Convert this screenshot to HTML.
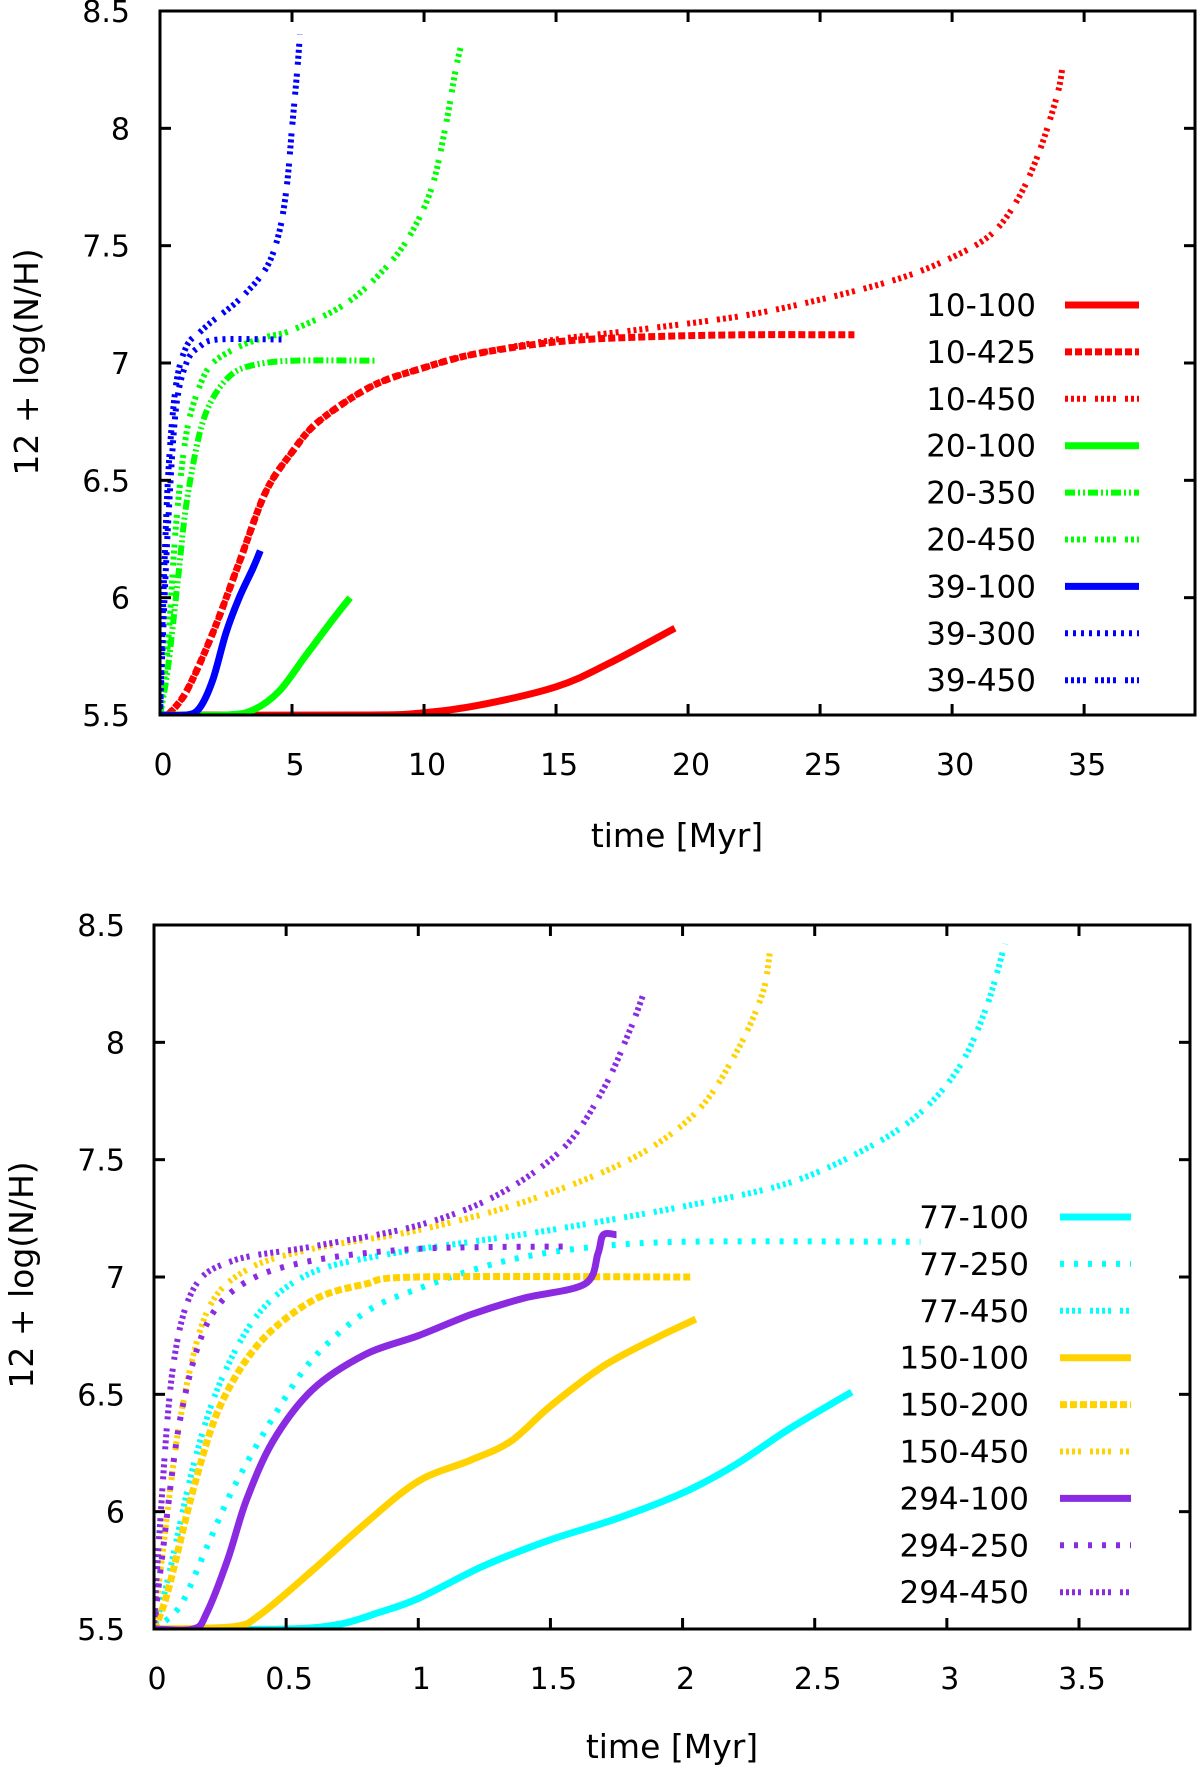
<!DOCTYPE html>
<html><head><meta charset="utf-8"><style>
html,body{margin:0;padding:0;background:#fff;}
svg{display:block;font-family:"DejaVu Sans","Liberation Sans",sans-serif;}
</style></head><body>
<svg id="fig" width="1200" height="1769" viewBox="0 0 1200 1769" xmlns="http://www.w3.org/2000/svg"></svg>
<script>
// ---- Top panel data ----
const topNames = ["10-100","10-425","10-450","20-100","20-350","20-450","39-100","39-300","39-450"];
const top_10_100 = [[0,5.5],[8,5.5],[10,5.51],[12,5.54],[15,5.62],[17,5.72],[19.5,5.87]];
const top_10_425 = [[0.3,5.5],[1,5.6],[2,5.85],[3,6.15],[4,6.45],[5,6.62],[6,6.75],[8,6.9],[10,6.98],[12,7.04],[15,7.09],[18,7.11],[22,7.12],[26.3,7.12]];
const top_10_450 = [[0.3,5.5],[1,5.6],[2,5.85],[3,6.15],[4,6.45],[5,6.62],[6,6.75],[8,6.9],[10,6.98],[12,7.04],[15,7.1],[18,7.14],[22,7.2],[25,7.27],[28,7.36],[30,7.45],[31.5,7.55],[32.5,7.7],[33.3,7.9],[34,8.15],[34.2,8.28]];
const top_20_100 = [[0,5.5],[2.5,5.5],[3.5,5.52],[4.5,5.6],[5.5,5.75],[6.5,5.9],[7.2,6.0]];
const top_20_350 = [[0,5.5],[0.3,5.7],[0.7,6.1],[1,6.4],[1.5,6.7],[2,6.85],[2.7,6.95],[3.5,6.99],[5,7.01],[8.2,7.01]];
const top_20_450 = [[0,5.5],[0.3,5.8],[0.6,6.3],[1,6.7],[1.5,6.9],[2,7.0],[3,7.07],[4,7.11],[5,7.14],[7,7.25],[8.5,7.4],[9.5,7.55],[10.3,7.75],[10.8,8.0],[11.2,8.25],[11.4,8.35]];
const top_39_100 = [[0,5.5],[1,5.5],[1.5,5.53],[2,5.65],[2.5,5.85],[3,6.0],[3.5,6.12],[3.8,6.2]];
const top_39_300 = [[0,5.5],[0.1,5.8],[0.3,6.3],[0.6,6.8],[1,7.0],[1.5,7.07],[2.2,7.1],[4.6,7.1]];
const top_39_450 = [[0,5.5],[0.1,5.9],[0.3,6.5],[0.6,6.9],[1,7.07],[1.5,7.13],[2,7.18],[3,7.27],[4,7.4],[4.5,7.55],[4.8,7.75],[5,8.0],[5.2,8.25],[5.3,8.4]];
const topXTicks = [0,5,10,15,20,25,30,35];
const yTicks = [5.5,6,6.5,7,7.5,8,8.5];

// ---- Bottom panel data ----
const botNames = ["77-100","77-250","77-450","150-100","150-200","150-450","294-100","294-250","294-450"];
const bot_77_100 = [[0,5.5],[0.5,5.5],[0.7,5.52],[0.85,5.57],[1,5.63],[1.25,5.77],[1.5,5.88],[1.75,5.97],[2,6.08],[2.2,6.2],[2.4,6.35],[2.64,6.51]];
const bot_77_250 = [[0,5.5],[0.1,5.6],[0.2,5.85],[0.3,6.1],[0.45,6.4],[0.6,6.65],[0.8,6.85],[1,6.95],[1.3,7.06],[1.6,7.12],[2,7.15],[2.9,7.15]];
const bot_77_450 = [[0,5.5],[0.05,5.7],[0.15,6.2],[0.25,6.55],[0.4,6.85],[0.6,7.02],[0.9,7.1],[1.2,7.15],[1.5,7.2],[2,7.3],[2.4,7.4],[2.7,7.55],[2.9,7.7],[3.05,7.9],[3.15,8.15],[3.22,8.42]];
const bot_150_100 = [[0,5.5],[0.3,5.51],[0.4,5.56],[0.6,5.75],[0.8,5.95],[1,6.13],[1.2,6.22],[1.35,6.3],[1.5,6.45],[1.7,6.62],[1.9,6.74],[2.05,6.82]];
const bot_150_200 = [[0,5.5],[0.05,5.65],[0.15,6.1],[0.25,6.45],[0.4,6.72],[0.6,6.9],[0.8,6.97],[1,7.0],[2.03,7.0]];
const bot_150_450 = [[0,5.5],[0.03,5.8],[0.1,6.4],[0.2,6.85],[0.35,7.03],[0.6,7.12],[1,7.2],[1.4,7.32],[1.8,7.5],[2.05,7.7],[2.2,7.95],[2.3,8.2],[2.33,8.38]];
const bot_294_100 = [[0,5.5],[0.15,5.5],[0.2,5.57],[0.28,5.8],[0.35,6.05],[0.45,6.3],[0.6,6.52],[0.8,6.67],[1,6.75],[1.2,6.84],[1.4,6.91],[1.63,6.97],[1.68,7.1],[1.7,7.18],[1.75,7.18]];
const bot_294_250 = [[0,5.5],[0.03,5.8],[0.1,6.4],[0.2,6.8],[0.35,6.98],[0.6,7.07],[1,7.12],[1.55,7.13]];
const bot_294_450 = [[0,5.5],[0.02,5.9],[0.07,6.6],[0.15,6.95],[0.3,7.07],[0.6,7.13],[1,7.22],[1.3,7.35],[1.55,7.55],[1.7,7.8],[1.8,8.05],[1.85,8.2]];
const botXTicks = [0,0.5,1,1.5,2,2.5,3,3.5];
const botXLabels = ["0","0.5","1","1.5","2","2.5","3","3.5"];

const NS="http://www.w3.org/2000/svg";
const svg=document.getElementById('fig');
function mk(tag,attrs,parent){const e=document.createElementNS(NS,tag);for(const k in attrs)e.setAttribute(k,attrs[k]);(parent||svg).appendChild(e);return e;}

const SOLID="none", DASH="7 3", DOT4="3 3 3 3 3 3 3 9", DASHDOT="10 3 2 3 2 3", SDOT="3 5", SPARSE="4 10";

function smoothPath(pts,k){
  // Catmull-Rom to cubic Bezier with tension k
  let d='M'+pts[0][0].toFixed(1)+','+pts[0][1].toFixed(1);
  for(let i=0;i<pts.length-1;i++){
    const p0=pts[Math.max(0,i-1)],p1=pts[i],p2=pts[i+1],p3=pts[Math.min(pts.length-1,i+2)];
    const c1x=p1[0]+(p2[0]-p0[0])*k, c1y=p1[1]+(p2[1]-p0[1])*k;
    const c2x=p2[0]-(p3[0]-p1[0])*k, c2y=p2[1]-(p3[1]-p1[1])*k;
    d+=' C'+c1x.toFixed(1)+','+c1y.toFixed(1)+' '+c2x.toFixed(1)+','+c2y.toFixed(1)+' '+p2[0].toFixed(1)+','+p2[1].toFixed(1);
  }
  return d;
}

function panel(cfg){
  const g=mk('g',{});
  
  
  const L=cfg.L,R=cfg.R,T=cfg.T,B=cfg.B;
  const sx=v=>L+(v-cfg.xmin)/(cfg.xmax-cfg.xmin)*(R-L);
  const sy=v=>B-(v-5.5)/(8.5-5.5)*(B-T);
  const cp=mk('clipPath',{id:cfg.name+'-clip'},g);
  mk('rect',{x:L,y:T-8,width:R-L,height:B-T+8},cp);
  const sg=mk('g',{'clip-path':'url(#'+cfg.name+'-clip)'},g);
  cfg.series.forEach((s,i)=>{
    const pts=s.data.map(p=>[sx(p[0]),sy(p[1])]);
    const p=mk('path',{d:smoothPath(pts,0.16),fill:'none',stroke:s.color,'stroke-width':s.w,'stroke-linejoin':'round'},sg);
    if(s.dash!=="none")p.setAttribute('stroke-dasharray',s.dash);
    
    
    const ly=cfg.legY+i*46.9;
    const t=mk('text',{x:cfg.legTextX,y:ly+11,'font-size':31,'text-anchor':'end',fill:'#000'},g);
    t.textContent=s.label;
    
    
    const ls=mk('line',{x1:cfg.legX1,x2:cfg.legX2,y1:ly,y2:ly,stroke:s.color,'stroke-width':s.w},g);
    if(s.dash!=="none")ls.setAttribute('stroke-dasharray',s.dash);
    
    
  });
  const fr=mk('rect',{x:L,y:T,width:R-L,height:B-T,fill:'none',stroke:'#000','stroke-width':3},g);
  
  
  cfg.xticks.forEach((v,i)=>{
    const x=sx(v);
    mk('line',{x1:x,x2:x,y1:B,y2:B-11,stroke:'#000','stroke-width':3},g);
    mk('line',{x1:x,x2:x,y1:T,y2:T+11,stroke:'#000','stroke-width':3},g);
    const t=mk('text',{x:x+3,y:B+60,'font-size':30,'text-anchor':'middle'},g);
    t.textContent=cfg.xlabels[i];
    
    
  });
  yTicks.forEach(v=>{
    const y=sy(v);
    mk('line',{x1:L,x2:L+11,y1:y,y2:y,stroke:'#000','stroke-width':3},g);
    mk('line',{x1:R,x2:R-11,y1:y,y2:y,stroke:'#000','stroke-width':3},g);
    const t=mk('text',{x:cfg.ylabX,y:y+11,'font-size':30,'text-anchor':'end'},g);
    t.textContent=String(v);
    
    
  });
  const xt=mk('text',{x:cfg.xtX,y:cfg.xtY,'font-size':33,'text-anchor':'middle'},g);
  xt.textContent='time [Myr]';
  
  
  const yt=mk('text',{x:0,y:0,'font-size':33,'text-anchor':'middle',transform:'translate('+(cfg.ytX)+','+cfg.ytY+') rotate(-90)'},g);
  yt.textContent='12 + log(N/H)';
  
  
}

const RED='#ff0000',GRN='#00ff00',BLU='#0000ff',CYN='#00ffff',GLD='#ffd200',PUR='#8a2be2';
panel({name:'top-panel',L:160,R:1195,T:11,B:715,xmin:0,xmax:39.2,
  xticks:topXTicks,xlabels:topXTicks.map(String),ylabX:130,xtX:677,xtY:847,ytX:38,ytY:362,
  legY:305,legTextX:1036,legX1:1065,legX2:1139,
  series:[
    {label:topNames[0],data:top_10_100,color:RED,dash:SOLID,w:7},
    {label:topNames[1],data:top_10_425,color:RED,dash:DASH,w:7},
    {label:topNames[2],data:top_10_450,color:RED,dash:DOT4,w:6},
    {label:topNames[3],data:top_20_100,color:GRN,dash:SOLID,w:7},
    {label:topNames[4],data:top_20_350,color:GRN,dash:DASHDOT,w:6},
    {label:topNames[5],data:top_20_450,color:GRN,dash:DOT4,w:6},
    {label:topNames[6],data:top_39_100,color:BLU,dash:SOLID,w:7},
    {label:topNames[7],data:top_39_300,color:BLU,dash:SDOT,w:6},
    {label:topNames[8],data:top_39_450,color:BLU,dash:DOT4,w:6}
  ]});
panel({name:'bottom-panel',L:154,R:1190,T:925,B:1629,xmin:0,xmax:3.92,
  xticks:botXTicks,xlabels:botXLabels,ylabX:125,xtX:672,xtY:1758,ytX:33,ytY:1275,
  legY:1217,legTextX:1029,legX1:1060,legX2:1131,
  series:[
    {label:botNames[0],data:bot_77_100,color:CYN,dash:SOLID,w:7},
    {label:botNames[1],data:bot_77_250,color:CYN,dash:SPARSE,w:6},
    {label:botNames[2],data:bot_77_450,color:CYN,dash:DOT4,w:6},
    {label:botNames[3],data:bot_150_100,color:GLD,dash:SOLID,w:7},
    {label:botNames[4],data:bot_150_200,color:GLD,dash:DASH,w:7},
    {label:botNames[5],data:bot_150_450,color:GLD,dash:DOT4,w:6},
    {label:botNames[6],data:bot_294_100,color:PUR,dash:SOLID,w:7},
    {label:botNames[7],data:bot_294_250,color:PUR,dash:SPARSE,w:6},
    {label:botNames[8],data:bot_294_450,color:PUR,dash:DOT4,w:6}
  ]});
</script>
</body></html>
